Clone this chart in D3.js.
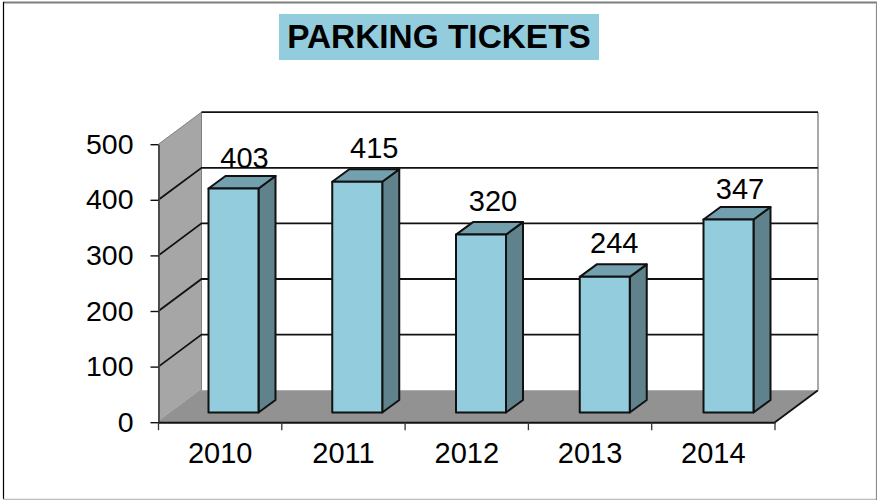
<!DOCTYPE html>
<html>
<head>
<meta charset="utf-8">
<script src="https://cdn.jsdelivr.net/npm/d3@7"></script>
<style>
  html, body { margin: 0; padding: 0; background: #fff; }
  text { font-family: "Liberation Sans", Arial, sans-serif; fill: #000; }
</style>
</head>
<body>
<div id="chart"></div>
<script>
const years = ["2010", "2011", "2012", "2013", "2014"];
const tickets = [403, 415, 320, 244, 347];
const yTicks = [0, 100, 200, 300, 400, 500];
const title = "PARKING TICKETS";

const width = 877;
const height = 500;

// Front plane of the 3D box, and how far back the walls go.
const frontLeft = 158.5;
const frontRight = 775;
const depthX = 43;
const depthY = 32;

// The bars sit part way into the box.
const barWidth = 50;
const barDepthX = 17;
const barDepthY = 12.5;
const barOffsetY = 9.7;

// The labels were hand placed in the original, so they don't line up exactly.
const labelNudgeX = [0, 6, 1, -1.5, 0.5];
const labelNudgeY = [0, -3.5, -4, -3.5, -0.5];

const x = d3.scaleBand(years, [frontLeft, frontRight]);
const y = d3.scaleLinear([0, 500], [422.2, 144.2]);
const barX = d3.scalePoint(years, [208.5, 703.5]);

const poly = pts => "M" + pts.map(p => p.join(",")).join("L") + "Z";

const svg = d3.select("#chart").append("svg")
  .attr("width", width)
  .attr("height", height)
  .attr("viewBox", [0, 0, width, height])
  .style("display", "block");

// Outer frame, each side has its own shade.
const frame = svg.append("g");
frame.append("line").attr("x1", 3).attr("x2", 877).attr("y1", 2.5).attr("y2", 2.5)
  .attr("stroke", "#7f7f7f").attr("stroke-width", 2);
frame.append("line").attr("x1", 3.5).attr("x2", 3.5).attr("y1", 2).attr("y2", 499)
  .attr("stroke", "#000").attr("stroke-width", 1.2);
frame.append("line").attr("x1", 3).attr("x2", 877).attr("y1", 499.5).attr("y2", 499.5)
  .attr("stroke", "#bdbdbd").attr("stroke-width", 1.5);
frame.append("line").attr("x1", 876.5).attr("x2", 876.5).attr("y1", 2).attr("y2", 500)
  .attr("stroke", "#8c8c8c").attr("stroke-width", 1.2);

// Title.
svg.append("rect")
  .attr("x", 279).attr("y", 14)
  .attr("width", 320).attr("height", 46)
  .attr("fill", "#93cddd");
svg.append("text")
  .attr("x", 439).attr("y", 48)
  .attr("text-anchor", "middle")
  .attr("font-size", 33.4)
  .attr("font-weight", "bold")
  .text(title);

// Left wall.
svg.append("path")
  .attr("fill", "#a6a6a6")
  .attr("stroke", "#7f7f7f")
  .attr("d", poly([
    [frontLeft, y(0)], [frontLeft, y(500)],
    [frontLeft + depthX, y(500) - depthY], [frontLeft + depthX, y(0) - depthY]
  ]));

// Floor.
svg.append("path")
  .attr("fill", "#929292")
  .attr("d", poly([
    [frontLeft, y(0)], [frontRight, y(0)],
    [frontRight + depthX, y(0) - depthY], [frontLeft + depthX, y(0) - depthY]
  ]));
svg.append("line")
  .attr("x1", frontRight).attr("y1", y(0))
  .attr("x2", frontRight + depthX).attr("y2", y(0) - depthY)
  .attr("stroke", "#111").attr("stroke-width", 1.8);

// Right edge of the back wall.
svg.append("line")
  .attr("x1", frontRight + depthX).attr("y1", y(500) - depthY)
  .attr("x2", frontRight + depthX).attr("y2", y(0) - depthY)
  .attr("stroke", "#a0a0a0").attr("stroke-width", 1.8);

// Grid lines along the left wall and the back wall.
const grid = svg.append("g")
  .attr("fill", "none")
  .attr("stroke", "#111")
  .attr("stroke-width", 1.8)
  .selectAll("path")
  .data(yTicks.slice(1))
  .join("path")
  .attr("d", d => `M${frontLeft},${y(d)}L${frontLeft + depthX},${y(d) - depthY}H${frontRight + depthX}`);
grid.filter(d => d === 500)
  .attr("d", d => `M${frontLeft + depthX},${y(d) - depthY}H${frontRight + depthX}`);

// Bars: side, top, then front face.
const bars = svg.append("g")
  .selectAll("g")
  .data(years.map((year, i) => ({year, value: tickets[i]})))
  .join("g")
  .attr("stroke", "#111")
  .attr("stroke-width", 2)
  .attr("stroke-linejoin", "round");

const barLeft = d => barX(d.year);
const barBase = () => y(0) - barOffsetY;
const barTop = d => y(d.value) - barOffsetY;

bars.append("path")
  .attr("fill", "#5f828d")
  .attr("d", d => poly([
    [barLeft(d) + barWidth, barBase()],
    [barLeft(d) + barWidth, barTop(d)],
    [barLeft(d) + barWidth + barDepthX, barTop(d) - barDepthY],
    [barLeft(d) + barWidth + barDepthX, barBase() - barDepthY]
  ]));
bars.append("path")
  .attr("fill", "#73a0ae")
  .attr("d", d => poly([
    [barLeft(d), barTop(d)],
    [barLeft(d) + barWidth, barTop(d)],
    [barLeft(d) + barWidth + barDepthX, barTop(d) - barDepthY],
    [barLeft(d) + barDepthX, barTop(d) - barDepthY]
  ]));
bars.append("rect")
  .attr("fill", "#93cddd")
  .attr("x", barLeft)
  .attr("y", barTop)
  .attr("width", barWidth)
  .attr("height", d => barBase() - barTop(d));

// Value labels above each bar.
svg.append("g")
  .attr("font-size", 29)
  .attr("text-anchor", "middle")
  .selectAll("text")
  .data(years.map((year, i) => ({year, value: tickets[i], i})))
  .join("text")
  .attr("x", d => barLeft(d) + 36 + labelNudgeX[d.i])
  .attr("y", d => barTop(d) - 20 + labelNudgeY[d.i])
  .text(d => d.value);

// Y axis.
svg.append("g")
  .attr("transform", `translate(${frontLeft},0)`)
  .call(d3.axisLeft(y).tickValues(yTicks).tickSize(8).tickPadding(17).tickSizeOuter(0))
  .call(g => g.selectAll("text").attr("font-size", 28.5))
  .call(g => g.selectAll("line").attr("stroke", "#111").attr("stroke-width", 1.4))
  .call(g => g.select(".domain").attr("stroke", "#444").attr("stroke-width", 1.8));

// X axis: labels centred in the band, ticks on the band edges.
svg.append("g")
  .attr("transform", `translate(0,${y(0)})`)
  .call(d3.axisBottom(x).tickSize(0).tickPadding(20).tickSizeOuter(0))
  .call(g => g.selectAll("text").attr("font-size", 29))
  .call(g => g.select(".domain").attr("stroke", "#111").attr("stroke-width", 2));

svg.append("g")
  .attr("stroke", "#333")
  .attr("stroke-width", 1.3)
  .selectAll("line")
  .data([...years.map(d => x(d)), frontRight])
  .join("line")
  .attr("x1", d => d).attr("x2", d => d)
  .attr("y1", y(0)).attr("y2", y(0) + 8);
</script>
</body>
</html>
